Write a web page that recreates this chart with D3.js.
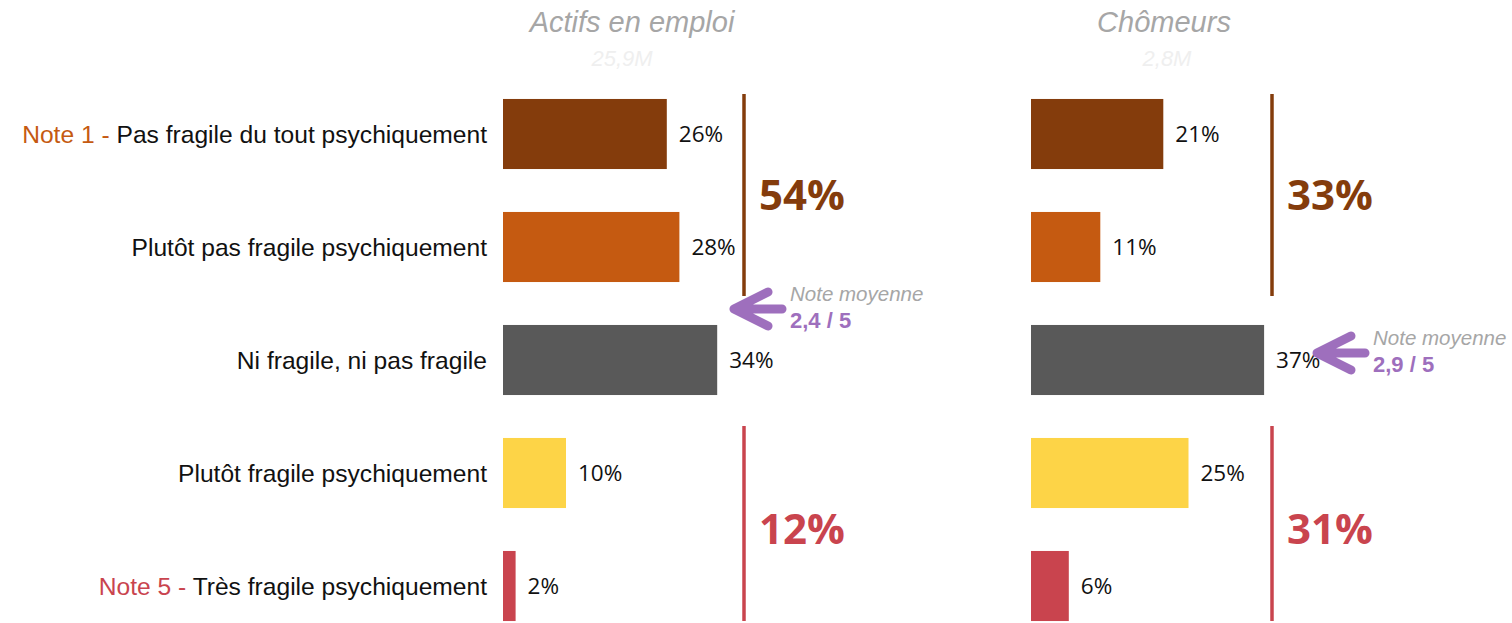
<!DOCTYPE html>
<html>
<head>
<meta charset="utf-8">
<script src="https://cdn.jsdelivr.net/npm/d3@7"></script>
<style>
  body { margin: 0; background: #fff; }
  svg { display: block; }
  .sans { font-family: "Liberation Sans", Arial, sans-serif; }
  .num { font-family: "Open Sans", sans-serif; }
</style>
</head>
<body>
<svg id="chart" width="1512" height="623"></svg>
<script>
// données
var categories = ["Pas fragile du tout psychiquement", "Plutôt pas fragile psychiquement", "Ni fragile, ni pas fragile", "Plutôt fragile psychiquement", "Très fragile psychiquement"];
var notePrefix = ["Note 1 - ", "", "", "", "Note 5 - "];
var panelTitles = ["Actifs en emploi", "Chômeurs"];
var panelTotals = ["25,9M", "2,8M"];
var actifsValues = [26, 28, 34, 10, 2];
var chomeursValues = [21, 11, 37, 25, 6];
var groupTopLabels = ["54%", "33%"];
var groupBottomLabels = ["12%", "31%"];
var meanScores = ["2,4 / 5", "2,9 / 5"];

var colors = ["#843C0C", "#C55A11", "#595959", "#FDD447", "#C9444E"];
var brown = "#843C0C", red = "#C9444E", purple = "#9E6FBD";

var svg = d3.select("#chart");

var y = d3.scaleBand().domain(categories).range([77.5, 642.5]).paddingInner(0.38).paddingOuter(0.19);
var x = d3.scaleLinear().domain([0, 40]).range([0, 252]);

// libellés des catégories
var labels = svg.append("g").selectAll("text")
    .data(categories)
    .enter().append("text")
    .attr("class", "sans")
    .attr("x", 487)
    .attr("y", function(d) { return y(d) + y.bandwidth() / 2; })
    .attr("dy", "0.35em")
    .attr("text-anchor", "end")
    .style("font-size", "24.6px");
labels.append("tspan")
    .attr("fill", function(d, i) { return i == 0 ? "#C55A11" : red; })
    .text(function(d, i) { return notePrefix[i]; });
labels.append("tspan")
    .attr("fill", "#111")
    .text(function(d) { return d; });

var panels = [
    {x0: 503, values: actifsValues, lineX: 744, titleX: 632, totalX: 622, arrowTip: 734, arrowY: 309},
    {x0: 1031, values: chomeursValues, lineX: 1272, titleX: 1164, totalX: 1167, arrowTip: 1317, arrowY: 353}
];

panels.forEach(function(p, k) {
    var g = svg.append("g");

    g.append("text")
        .attr("class", "sans")
        .attr("x", p.titleX).attr("y", 32)
        .attr("text-anchor", "middle")
        .attr("fill", "#A6A6A6")
        .style("font-style", "italic")
        .style("font-size", "29px")
        .text(panelTitles[k]);
    g.append("text")
        .attr("class", "sans")
        .attr("x", p.totalX).attr("y", 66)
        .attr("text-anchor", "middle")
        .attr("fill", "#EFEFEF")
        .style("font-style", "italic")
        .style("font-size", "22px")
        .text(panelTotals[k]);

    g.selectAll("rect")
        .data(p.values)
        .enter().append("rect")
        .attr("x", p.x0)
        .attr("y", function(d, i) { return y(categories[i]); })
        .attr("width", function(d) { return x(d); })
        .attr("height", y.bandwidth())
        .attr("fill", function(d, i) { return colors[i]; });

    g.selectAll(".val")
        .data(p.values)
        .enter().append("text")
        .attr("class", "val num")
        .attr("x", function(d) { return p.x0 + x(d) + 12; })
        .attr("y", function(d, i) { return y(categories[i]) + y.bandwidth() / 2; })
        .attr("dy", "0.35em")
        .attr("fill", "#111")
        .style("font-size", "22.5px")
        .text(function(d) { return d + "%"; });

    // lignes de regroupement
    var topY0 = y(categories[0]) - 5, topY1 = y(categories[1]) + y.bandwidth() + 14;
    var botY0 = y(categories[3]) - 12, botY1 = y(categories[4]) + y.bandwidth();
    g.append("line").attr("x1", p.lineX).attr("x2", p.lineX).attr("y1", topY0).attr("y2", topY1)
        .attr("stroke", brown).attr("stroke-width", 3.5);
    g.append("line").attr("x1", p.lineX).attr("x2", p.lineX).attr("y1", botY0).attr("y2", botY1)
        .attr("stroke", red).attr("stroke-width", 3.5);

    g.append("text")
        .attr("class", "num")
        .attr("x", p.lineX + 15).attr("y", (topY0 + topY1) / 2)
        .attr("dy", "0.35em")
        .attr("fill", brown)
        .style("font-weight", "bold")
        .style("font-size", "42px")
        .text(groupTopLabels[k]);
    g.append("text")
        .attr("class", "num")
        .attr("x", p.lineX + 15).attr("y", (y(categories[3]) + botY1) / 2)
        .attr("dy", "0.35em")
        .attr("fill", red)
        .style("font-weight", "bold")
        .style("font-size", "42px")
        .text(groupBottomLabels[k]);

    // flèche note moyenne
    var tip = p.arrowTip, ay = p.arrowY;
    g.append("path")
        .attr("d", "M" + (tip + 48) + "," + ay + "L" + (tip + 3) + "," + ay +
            "M" + (tip + 34) + "," + (ay - 17) + "L" + tip + "," + ay + "L" + (tip + 34) + "," + (ay + 17))
        .attr("fill", "none")
        .attr("stroke", purple)
        .attr("stroke-width", 9)
        .attr("stroke-linecap", "round")
        .attr("stroke-linejoin", "round");
    g.append("text")
        .attr("class", "sans")
        .attr("x", tip + 56).attr("y", ay - 8)
        .attr("fill", "#A6A6A6")
        .style("font-style", "italic")
        .style("font-size", "20.5px")
        .text("Note moyenne");
    g.append("text")
        .attr("class", "sans")
        .attr("x", tip + 56).attr("y", ay + 19)
        .attr("fill", purple)
        .style("font-weight", "bold")
        .style("font-size", "22px")
        .text(meanScores[k]);
});
</script>
</body>
</html>
